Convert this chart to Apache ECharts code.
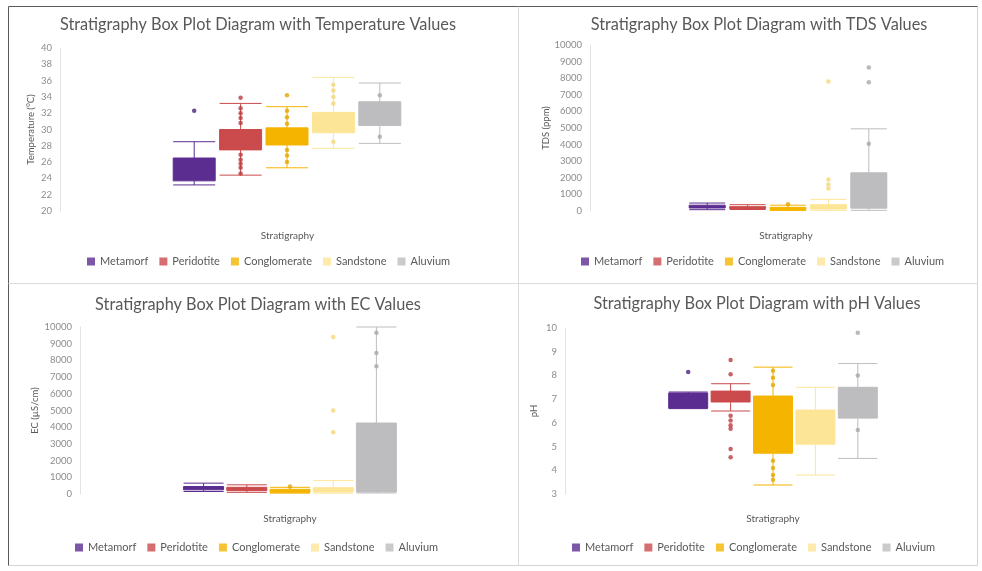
<!DOCTYPE html>
<html><head><meta charset="utf-8">
<script src="https://cdn.jsdelivr.net/npm/echarts@6/dist/echarts.min.js"></script>
<style>html,body{margin:0;padding:0;background:#fff}#c{width:982px;height:571px}</style>
</head><body><div id="c"></div>
<script>
// ---------- data ----------
const strata = ['Metamorf', 'Peridotite', 'Conglomerate', 'Sandstone', 'Aluvium'];
const xCategory = ['Stratigraphy'];
const titles = [
  'Stratigraphy Box Plot Diagram with Temperature Values',
  'Stratigraphy Box Plot Diagram with TDS Values',
  'Stratigraphy Box Plot Diagram with EC Values',
  'Stratigraphy Box Plot Diagram with pH Values'
];
const yNames = ['Temperature (°C)', 'TDS (ppm)', 'EC (µS/cm)', 'pH'];
const yMin = [20, 0, 0, 3];
const yMax = [40, 10000, 10000, 10];
const yStep = [2, 1000, 1000, 1];

// box values: [min, Q1, median, Q3, max]
const tempBoxes = [
  [23.2, 23.7, 25.0, 26.5, 28.5],
  [24.4, 27.5, 28.6, 30.0, 33.2],
  [25.3, 28.1, 29.0, 30.2, 32.8],
  [27.7, 29.6, 30.8, 32.1, 36.4],
  [28.3, 30.5, 32.0, 33.4, 35.7]
];
const tempPoints = [
  [32.3],
  [33.9, 32.6, 32.0, 31.4, 30.8, 26.9, 26.3, 25.8, 25.3, 24.6],
  [34.2, 32.3, 31.5, 30.7, 27.5, 26.8, 26.0],
  [35.5, 34.8, 34.0, 33.2, 28.5],
  [34.2, 29.1]
];
const tdsBoxes = [
  [80, 180, 260, 350, 480],
  [90, 150, 200, 260, 380],
  [30, 90, 150, 220, 350],
  [40, 120, 220, 380, 700],
  [40, 170, 600, 2300, 4950]
];
const tdsPoints = [
  [],
  [],
  [400],
  [1350, 1600, 1900, 7800],
  [4050, 7750, 8650]
];
const ecBoxes = [
  [150, 250, 350, 450, 650],
  [100, 200, 300, 400, 550],
  [50, 100, 180, 280, 400],
  [50, 120, 250, 380, 800],
  [60, 120, 500, 4250, 10000]
];
const ecPoints = [
  [],
  [],
  [450],
  [3700, 5000, 9400],
  [7650, 8450, 9650]
];
const phBoxes = [
  [6.6, 6.62, 7.0, 7.26, 7.3],
  [6.5, 6.88, 7.1, 7.34, 7.65],
  [3.38, 4.72, 5.9, 7.13, 8.35],
  [3.8, 5.1, 5.8, 6.54, 7.5],
  [4.5, 6.2, 6.8, 7.5, 8.5]
];
const phPoints = [
  [8.14],
  [8.65, 8.05, 6.3, 6.1, 5.9, 5.75, 4.9, 4.55],
  [8.2, 7.9, 7.6, 4.4, 4.1, 3.8, 3.6],
  [],
  [9.8, 8.0, 5.7]
];

const allBoxes = [tempBoxes, tdsBoxes, ecBoxes, phBoxes];
const allPoints = [tempPoints, tdsPoints, ecPoints, phPoints];

// ---------- styles / layout ----------
const fillColors = ['#5c2d91', '#cb4a4c', '#f4b400', '#fde597', '#bdbdbf'];
const pointColors = ['#4b2378', '#b93c3f', '#e3a600', '#f5d676', '#a8a8aa'];
const FONT = 'Lato';
const layout = [
  { a: { left: 60, top: 48, width: 455, height: 163 }, bLeft: 171, bWidth: 232, boxW: 42, title: [258, 25], legend: { left: 87, top: 256 }, nameGap: 24 },
  { a: { left: 590, top: 45, width: 395, height: 166 }, bLeft: 687, bWidth: 202, boxW: 36, title: [759, 25], legend: { left: 581, top: 256 }, nameGap: 38 },
  { a: { left: 80, top: 327, width: 420, height: 167 }, bLeft: 182, bWidth: 216, boxW: 40, title: [258, 305], legend: { left: 75, top: 542 }, nameGap: 40 },
  { a: { left: 565, top: 328, width: 416, height: 166 }, bLeft: 667, bWidth: 212, boxW: 39, title: [757, 304], legend: { left: 572, top: 542 }, nameGap: 26 }
];

const grids = [], xAxes = [], yAxes = [], series = [], legends = [], graphics = [];

layout.forEach((L, p) => {
  grids.push({ left: L.a.left, top: L.a.top, width: L.a.width, height: L.a.height });
  grids.push({ left: L.bLeft, top: L.a.top, width: L.bWidth, height: L.a.height });
  xAxes.push({
    type: 'category', gridIndex: 2 * p, data: xCategory,
    axisLine: { show: false }, axisTick: { show: false }, splitLine: { show: false },
    axisLabel: { color: '#595959', fontSize: 10, fontFamily: FONT, margin: 20 }
  });
  xAxes.push({ type: 'category', gridIndex: 2 * p + 1, data: strata, show: false });
  yAxes.push({
    type: 'value', gridIndex: 2 * p, min: yMin[p], max: yMax[p], interval: yStep[p],
    name: yNames[p], nameLocation: 'middle', nameRotate: 90, nameGap: L.nameGap,
    nameTextStyle: { color: '#595959', fontSize: 9.5, fontFamily: FONT },
    axisLine: { show: true, lineStyle: { color: '#e3e3e3' } }, axisTick: { show: false },
    splitLine: { show: false },
    axisLabel: { color: '#8c8c8c', fontSize: 9.5, fontFamily: FONT, margin: 8, formatter: v => String(v) }
  });
  yAxes.push({ type: 'value', gridIndex: 2 * p + 1, min: yMin[p], max: yMax[p], interval: yStep[p], show: false, splitLine: { show: false } });

  series.push({
    type: 'boxplot', name: 'box' + p, xAxisIndex: 2 * p + 1, yAxisIndex: 2 * p + 1,
    boxWidth: [L.boxW, L.boxW], silent: true,
    data: allBoxes[p].map((v, i) => ({ value: v, itemStyle: { color: fillColors[i], borderColor: fillColors[i], borderWidth: 1 } }))
  });
  strata.forEach((s, i) => {
    series.push({
      type: 'scatter', name: s, xAxisIndex: 2 * p + 1, yAxisIndex: 2 * p + 1,
      symbolSize: 4.5, itemStyle: { color: fillColors[i] }, z: 3,
      data: allPoints[p][i].map(v => ({ value: [s, v], itemStyle: { color: pointColors[i] } }))
    });
  });
  legends.push({
    data: strata, left: L.legend.left, top: L.legend.top, padding: 0,
    icon: 'rect', itemWidth: 8, itemHeight: 8, itemGap: 11,
    textStyle: { color: '#595959', fontSize: 11, fontFamily: FONT }
  });
  graphics.push({
    type: 'text', x: L.title[0], y: L.title[1],
    style: { text: titles[p], fill: '#595959', font: '16.3px ' + FONT, textAlign: 'center', textVerticalAlign: 'middle' }
  });
});

// panel frames
graphics.push({ type: 'rect', shape: { x: 8.5, y: 6.5, width: 969, height: 559 }, style: { fill: null, stroke: '#d4d4d4', lineWidth: 1 }, z: -1 });
graphics.push({ type: 'line', shape: { x1: 8.5, y1: 6.5, x2: 977.5, y2: 6.5 }, style: { stroke: '#5a5a5a', lineWidth: 1 } });
graphics.push({ type: 'line', shape: { x1: 8.5, y1: 6.5, x2: 8.5, y2: 565.5 }, style: { stroke: '#5a5a5a', lineWidth: 1 } });
graphics.push({ type: 'line', shape: { x1: 518.5, y1: 6.5, x2: 518.5, y2: 565.5 }, style: { stroke: '#dcdcdc', lineWidth: 1 } });
graphics.push({ type: 'line', shape: { x1: 8.5, y1: 283.5, x2: 977.5, y2: 283.5 }, style: { stroke: '#dcdcdc', lineWidth: 1 } });

const chart = echarts.init(document.getElementById('c'), null, { renderer: 'canvas' });
chart.setOption({
  backgroundColor: '#ffffff',
  animation: false,
  grid: grids, xAxis: xAxes, yAxis: yAxes,
  legend: legends, series: series, graphic: graphics
});
</script>
</body></html>
